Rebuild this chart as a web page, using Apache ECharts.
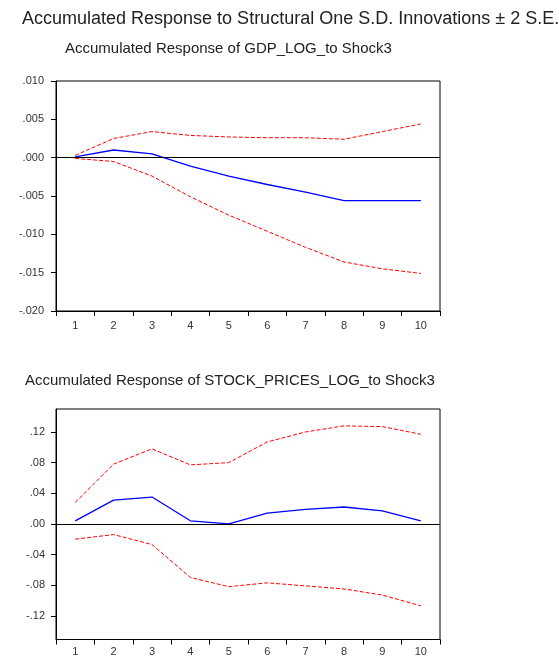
<!DOCTYPE html>
<html><head><meta charset="utf-8">
<script src="https://cdn.jsdelivr.net/npm/echarts@6/dist/echarts.min.js"></script>
<style>html,body{margin:0;padding:0;background:#fff}#c{width:559px;height:657px}</style>
</head><body><div id="c"></div>
<script>
const periods = ['1','2','3','4','5','6','7','8','9','10'];

const gdpResponse = [0.0001, 0.0010, 0.0005, -0.0011, -0.0024, -0.0035, -0.0045, -0.0056, -0.0056, -0.0056];
const gdpUpper    = [0.0003, 0.0025, 0.0034, 0.0029, 0.0027, 0.0026, 0.0026, 0.0024, 0.0034, 0.0044];
const gdpLower    = [-0.0001, -0.0005, -0.0024, -0.0051, -0.0075, -0.0096, -0.0117, -0.0136, -0.0145, -0.0151];

const stockResponse = [0.004, 0.031, 0.035, 0.004, 0.000, 0.014, 0.019, 0.022, 0.017, 0.004];
const stockUpper    = [0.028, 0.078, 0.098, 0.077, 0.080, 0.107, 0.120, 0.128, 0.127, 0.117];
const stockLower    = [-0.020, -0.014, -0.027, -0.070, -0.082, -0.077, -0.081, -0.085, -0.093, -0.107];

const stockTicks = [-0.12, -0.08, -0.04, 0, 0.04, 0.08, 0.12];

const mainTitle = 'Accumulated Response to Structural One S.D. Innovations \u00B1 2 S.E.';
const gdpTitle = 'Accumulated Response of GDP_LOG_to Shock3';
const stockTitle = 'Accumulated Response of STOCK_PRICES_LOG_to Shock3';

const FONT = '"Liberation Sans", Arial, sans-serif';
function fmt(d) {
  return function (v) {
    if (Math.abs(v) < 1e-9) v = 0;
    let s = v.toFixed(d);
    return s.replace(/^(-?)0\./, '$1.');
  };
}

const chart = echarts.init(document.getElementById('c'), null, {renderer: 'canvas'});

function xAxisFor(gi, margin) {
  return {
    type: 'category', gridIndex: gi, data: periods, boundaryGap: true,
    axisLine: {show: true, onZero: false, lineStyle: {color: '#000', width: 1}},
    axisTick: {show: true, length: 5, inside: false, alignWithLabel: false, lineStyle: {color: '#000'}},
    axisLabel: {color: '#333', fontFamily: FONT, fontSize: 11, margin: margin},
    splitLine: {show: false}
  };
}

const redDash = {color: '#ff0000', width: 1, type: [4, 2]};
const blueLine = {color: '#0000ff', width: 1.3};

function series(gi, up, resp, low) {
  return [
    {type: 'line', xAxisIndex: gi, yAxisIndex: gi, data: up, symbol: 'none', lineStyle: redDash, silent: true},
    {type: 'line', xAxisIndex: gi, yAxisIndex: gi, data: resp, symbol: 'none', lineStyle: blueLine, silent: true,
     markLine: {silent: true, symbol: 'none', label: {show: false}, lineStyle: {color: '#000', width: 1, type: 'solid'},
       data: [{yAxis: 0}], animation: false}},
    {type: 'line', xAxisIndex: gi, yAxisIndex: gi, data: low, symbol: 'none', lineStyle: redDash, silent: true}
  ];
}

chart.setOption({
  animation: false,
  backgroundColor: '#fff',
  title: [
    {text: mainTitle, left: 22, top: 10, padding: 0, textStyle: {fontFamily: FONT, fontSize: 18, fontWeight: 'normal', color: '#222'}},
    {text: gdpTitle, left: 65, top: 41, padding: 0, textStyle: {fontFamily: FONT, fontSize: 15, fontWeight: 'normal', color: '#222'}},
    {text: stockTitle, left: 25, top: 373, padding: 0, textStyle: {fontFamily: FONT, fontSize: 15, fontWeight: 'normal', color: '#222'}}
  ],
  grid: [
    {left: 56, top: 81, width: 384, height: 230, show: true, borderColor: '#000', borderWidth: 1,
     backgroundColor: 'transparent', outerBoundsMode: 'none', containLabel: false},
    {left: 56, top: 409, width: 384, height: 230.5, show: true, borderColor: '#000', borderWidth: 1,
     backgroundColor: 'transparent', outerBoundsMode: 'none', containLabel: false}
  ],
  xAxis: [xAxisFor(0, 9), xAxisFor(1, 7)],
  yAxis: [
    {type: 'value', gridIndex: 0, min: -0.020, max: 0.010, interval: 0.005,
     axisLine: {show: true, lineStyle: {color: '#000'}},
     axisTick: {show: true, length: 5, lineStyle: {color: '#000'}},
     axisLabel: {color: '#333', fontFamily: FONT, fontSize: 11, margin: 12, formatter: fmt(3)},
     splitLine: {show: false}},
    {type: 'value', gridIndex: 1, min: -0.151, max: 0.150,
     axisLine: {show: true, lineStyle: {color: '#000'}},
     axisTick: {show: true, length: 5, lineStyle: {color: '#000'}, customValues: stockTicks},
     axisLabel: {color: '#333', fontFamily: FONT, fontSize: 11, margin: 11, formatter: fmt(2), customValues: stockTicks},
     splitLine: {show: false}}
  ],
  series: [].concat(series(0, gdpUpper, gdpResponse, gdpLower), series(1, stockUpper, stockResponse, stockLower))
});
</script>
</body></html>
